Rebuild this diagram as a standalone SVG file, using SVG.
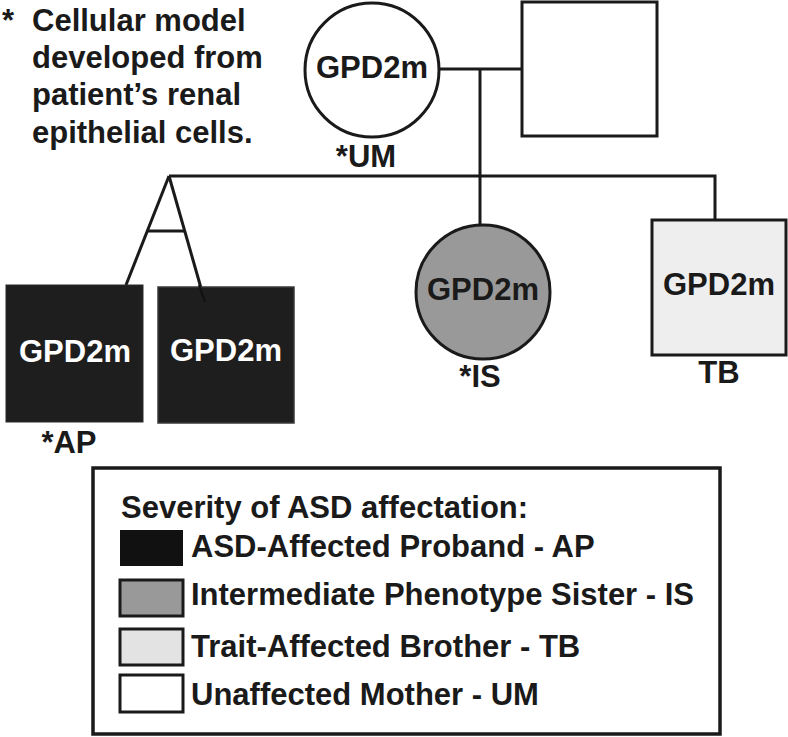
<svg xmlns="http://www.w3.org/2000/svg" width="788" height="737" viewBox="0 0 788 737">
<style>
text{font-family:"Liberation Sans",Arial,sans-serif;font-weight:bold;font-size:31px;fill:#1a1a1a}
.c{text-anchor:middle}
.w{fill:#ffffff}
.ln{stroke:#1a1a1a;stroke-width:3;fill:none}
.sh{stroke:#1a1a1a;stroke-width:3}
.sw{stroke:#1a1a1a;stroke-width:3}
</style>
<rect width="788" height="737" fill="#ffffff"/>
<g id="note">
<text x="2" y="31">*</text>
<text x="32" y="31">Cellular model</text>
<text x="32" y="68">developed from</text>
<text x="32" y="105">patient’s renal</text>
<text x="32" y="143">epithelial cells.</text>
</g>
<g id="connectors">
<line class="ln" x1="440" y1="69" x2="522" y2="69"/>
<line class="ln" x1="480" y1="69" x2="480" y2="225"/>
<polyline class="ln" points="169,176 715,176 715,220"/>
<line class="ln" x1="169" y1="176" x2="126" y2="285"/>
<line class="ln" x1="169" y1="176" x2="205" y2="302"/>
<line class="ln" x1="147" y1="231" x2="185" y2="231"/>
</g>
<g id="mother">
<circle class="sh" cx="372" cy="70" r="67" fill="#ffffff"/>
<text class="c" x="372" y="78">GPD2m</text>
<text class="c" x="366" y="167">*UM</text>
</g>
<g id="father">
<rect class="sh" x="522" y="2" width="135" height="134" fill="#ffffff"/>
</g>
<g id="proband">
<rect x="6" y="285" width="137" height="137" fill="#1e1e1e" stroke="#2a2a2a" stroke-width="1"/>
<text class="c w" x="75" y="362">GPD2m</text>
<text class="c" x="69" y="453">*AP</text>
</g>
<g id="twin">
<rect x="158" y="287" width="136" height="136" fill="#1e1e1e" stroke="#3a3a3a" stroke-width="1.5"/>
<line x1="199" y1="285" x2="205" y2="302" stroke="#111" stroke-width="2"/>
<text class="c w" x="226" y="361">GPD2m</text>
</g>
<g id="sister">
<circle class="sh" cx="483" cy="292" r="67" fill="#999999"/>
<text class="c" x="483" y="300">GPD2m</text>
<text class="c" x="480" y="387">*IS</text>
</g>
<g id="brother">
<rect class="sh" x="652" y="220" width="134" height="135" fill="#eeeeee"/>
<text class="c" x="719" y="295">GPD2m</text>
<text class="c" x="719" y="383">TB</text>
</g>
<g id="legend">
<rect x="93" y="468" width="627" height="266" fill="#ffffff" stroke="#1a1a1a" stroke-width="3.5"/>
<text x="121" y="518">Severity of ASD affectation:</text>
<rect x="120" y="530" width="63" height="36" fill="#111111"/>
<text x="191" y="557">ASD-Affected Proband - AP</text>
<rect class="sw" x="120" y="580" width="63" height="36" fill="#999999"/>
<text x="191" y="605">Intermediate Phenotype Sister - IS</text>
<rect class="sw" x="120" y="629" width="63" height="36" fill="#e3e3e3"/>
<text x="191" y="657">Trait-Affected Brother - TB</text>
<rect class="sw" x="120" y="675" width="63" height="37" fill="#ffffff"/>
<text x="191" y="705">Unaffected Mother - UM</text>
</g>
</svg>
